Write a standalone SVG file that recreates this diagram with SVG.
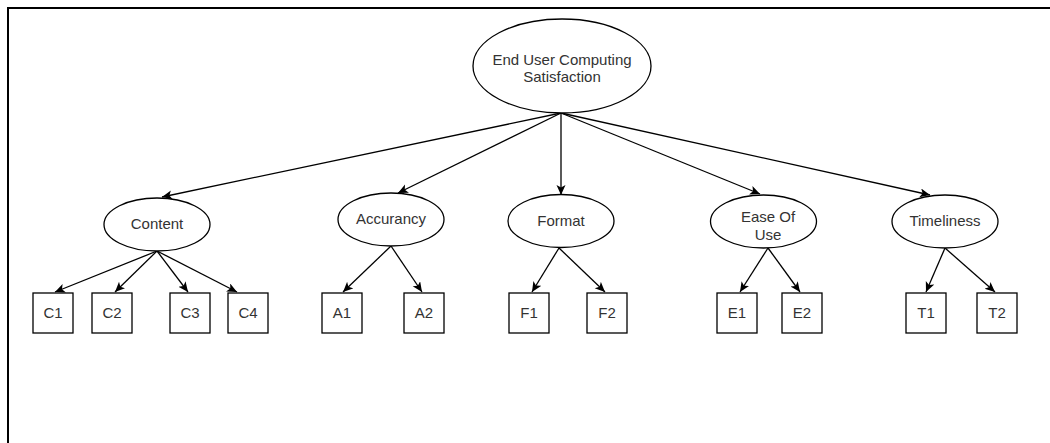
<svg xmlns="http://www.w3.org/2000/svg" width="1050" height="443" viewBox="0 0 1050 443">
<style>
.n{fill:#fff;stroke:#000;stroke-width:1.3}
.t{font-family:"Liberation Sans",Arial,sans-serif;font-size:15px;fill:#333;text-anchor:middle}
.e{fill:none;stroke:#000;stroke-width:1.3;marker-end:url(#ah)}
</style>
<defs>
<marker id="ah" markerUnits="userSpaceOnUse" markerWidth="12" markerHeight="10" refX="10" refY="4.5" orient="auto" viewBox="0 0 12 10">
<path d="M0,0 L10,4.5 L0,9 L2.5,4.5 Z" fill="#000"/>
</marker>
</defs>
<rect width="1050" height="443" fill="#fff"/>
<path d="M8,443 V8 H1050" fill="none" stroke="#000" stroke-width="2"/>
<g id="connectors">
<path class="e" d="M561,113 L162,197"/>
<path class="e" d="M561,113 L398,193"/>
<path class="e" d="M561,113 L561,195"/>
<path class="e" d="M561,113 L760,194"/>
<path class="e" d="M561,113 L930,195"/>
<path class="e" d="M157,251 L55,292"/>
<path class="e" d="M157,251 L115,292"/>
<path class="e" d="M157,251 L188,292"/>
<path class="e" d="M157,251 L237,292"/>
<path class="e" d="M391,246 L343,292"/>
<path class="e" d="M391,246 L422,292"/>
<path class="e" d="M559,248 L532,292"/>
<path class="e" d="M559,248 L605,292"/>
<path class="e" d="M768,248 L740,292"/>
<path class="e" d="M768,248 L800,292"/>
<path class="e" d="M945,248 L926,292"/>
<path class="e" d="M945,248 L995,292"/>
</g>
<g id="root"><ellipse class="n" cx="562" cy="66" rx="89" ry="47"/><text class="t" x="562" y="65">End User Computing</text><text class="t" x="562" y="82">Satisfaction</text></g>
<g id="content"><ellipse class="n" cx="157" cy="224.5" rx="53" ry="26.5"/><text class="t" x="157" y="229">Content</text></g>
<g id="accurancy"><ellipse class="n" cx="391" cy="219.5" rx="53" ry="26.5"/><text class="t" x="391" y="224">Accurancy</text></g>
<g id="format"><ellipse class="n" cx="561" cy="221" rx="53" ry="26.5"/><text class="t" x="561" y="226">Format</text></g>
<g id="ease"><ellipse class="n" cx="763.5" cy="221.5" rx="53" ry="26.5"/><text class="t" x="768" y="222">Ease Of</text><text class="t" x="768" y="240">Use</text></g>
<g id="timeliness"><ellipse class="n" cx="945" cy="221.5" rx="53" ry="26.5"/><text class="t" x="945" y="226">Timeliness</text></g>
<g id="c1"><rect class="n" x="33" y="293" width="40" height="40"/><text class="t" x="53" y="318">C1</text></g>
<g id="c2"><rect class="n" x="92" y="293" width="40" height="40"/><text class="t" x="112" y="318">C2</text></g>
<g id="c3"><rect class="n" x="170" y="293" width="40" height="40"/><text class="t" x="190" y="318">C3</text></g>
<g id="c4"><rect class="n" x="228" y="293" width="40" height="40"/><text class="t" x="248" y="318">C4</text></g>
<g id="a1"><rect class="n" x="322" y="293" width="40" height="40"/><text class="t" x="342" y="318">A1</text></g>
<g id="a2"><rect class="n" x="404" y="293" width="40" height="40"/><text class="t" x="424" y="318">A2</text></g>
<g id="f1"><rect class="n" x="509" y="293" width="40" height="40"/><text class="t" x="529" y="318">F1</text></g>
<g id="f2"><rect class="n" x="587" y="293" width="40" height="40"/><text class="t" x="607" y="318">F2</text></g>
<g id="e1"><rect class="n" x="717" y="293" width="40" height="40"/><text class="t" x="737" y="318">E1</text></g>
<g id="e2"><rect class="n" x="782" y="293" width="40" height="40"/><text class="t" x="802" y="318">E2</text></g>
<g id="t1"><rect class="n" x="906" y="293" width="40" height="40"/><text class="t" x="926" y="318">T1</text></g>
<g id="t2"><rect class="n" x="977" y="293" width="40" height="40"/><text class="t" x="997" y="318">T2</text></g>
</svg>
